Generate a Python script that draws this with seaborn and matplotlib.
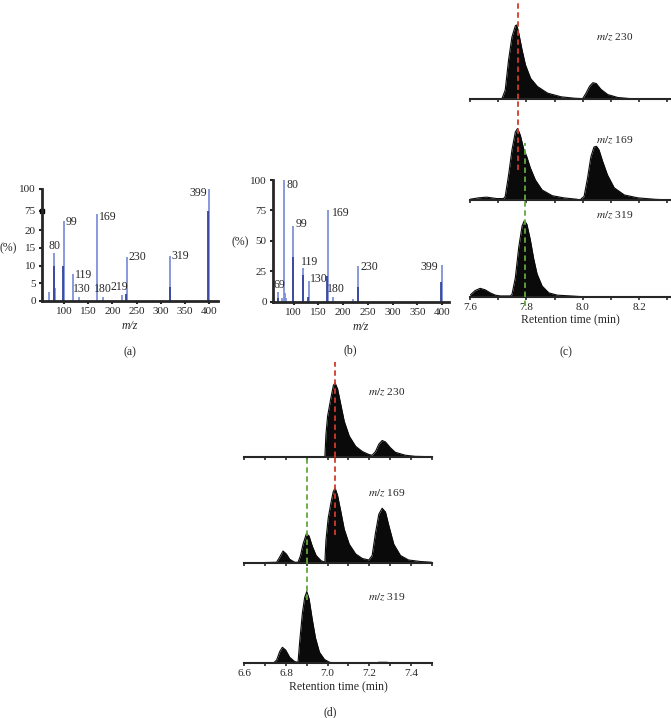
import numpy as np
import pandas as pd
import matplotlib
matplotlib.use('Agg')
import matplotlib.pyplot as plt
from matplotlib.ticker import MultipleLocator, FormatStrFormatter
import seaborn as sns

# ---- данные: масс-спектры (a) и (b) ----
a_mz = [69, 80, 82, 99, 119, 130, 169, 180, 219, 230, 319, 399]
a_int = [2.5, 13.6, 3.6, 47, 7.6, 1.1, 66, 1.0, 1.5, 12.3, 12.7, 100]
a_dark_mz = [79, 98, 229, 318, 398]
a_dark_int = [9.9, 10, 2, 3.8, 75]
a_labels = [80, 99, 119, 130, 169, 180, 219, 230, 319, 399]

b_mz = [69, 77, 80, 82, 84, 99, 119, 130, 169, 180, 219, 230, 399]
b_int = [8, 3, 100, 7, 3, 62, 28, 17, 75, 4, 2, 29, 30]
b_dark_mz = [68, 98, 118, 129, 168, 229, 398]
b_dark_int = [3, 37, 22, 4, 21, 12, 16]
b_labels = [69, 80, 99, 119, 130, 169, 180, 230, 399]

# ---- данные: хроматограммы (c) ----
c230_t = [7.60, 7.70, 7.713, 7.725, 7.737, 7.749, 7.761, 7.766, 7.773, 7.785, 7.797, 7.815, 7.839,
          7.875, 7.923, 7.971, 8.00, 8.012, 8.024, 8.036, 8.048, 8.065, 8.089, 8.125, 8.17, 8.31]
c230_y = [0, 0, 0, 0.12, 0.53, 0.84, 0.99, 1.0, 0.89, 0.66, 0.46, 0.28, 0.17,
          0.08, 0.03, 0.01, 0.005, 0.08, 0.17, 0.22, 0.21, 0.13, 0.06, 0.02, 0.005, 0]
c169_t = [7.60, 7.63, 7.659, 7.695, 7.719, 7.725, 7.737, 7.749, 7.761, 7.769, 7.779, 7.790, 7.802,
          7.814, 7.832, 7.856, 7.892, 7.933, 7.98, 7.99, 8.005, 8.017, 8.029, 8.040, 8.049, 8.058,
          8.07, 8.088, 8.112, 8.148, 8.196, 8.255, 8.31]
c169_y = [0.01, 0.03, 0.04, 0.02, 0.02, 0.05, 0.35, 0.7, 0.95, 1.0, 0.9, 0.72, 0.6,
          0.45, 0.28, 0.14, 0.06, 0.03, 0.01, 0.0, 0.05, 0.3, 0.6, 0.74, 0.75, 0.7,
          0.55, 0.35, 0.17, 0.07, 0.03, 0.01, 0.0]
c319_t = [7.60, 7.618, 7.636, 7.654, 7.672, 7.69, 7.708, 7.743, 7.749, 7.761, 7.773, 7.785, 7.793,
          7.802, 7.814, 7.826, 7.838, 7.856, 7.88, 7.91, 7.957, 8.0, 8.31]
c319_y = [0.02, 0.08, 0.11, 0.09, 0.05, 0.02, 0.01, 0.01, 0.03, 0.25, 0.65, 0.93, 1.0,
          0.95, 0.75, 0.5, 0.3, 0.14, 0.05, 0.02, 0.01, 0.0, 0.0]

# ---- данные: хроматограммы (d) ----
d230_t = [6.6, 6.987, 6.992, 7.0, 7.016, 7.028, 7.036, 7.048, 7.064, 7.08, 7.104, 7.135, 7.167,
          7.198, 7.214, 7.23, 7.246, 7.262, 7.278, 7.302, 7.325, 7.373, 7.42, 7.5]
d230_y = [0, 0, 0.3, 0.55, 0.8, 0.97, 1.0, 0.92, 0.7, 0.48, 0.28, 0.14, 0.07,
          0.03, 0.02, 0.07, 0.17, 0.22, 0.2, 0.12, 0.06, 0.02, 0.005, 0]
d169_t = [6.6, 6.755, 6.77, 6.786, 6.802, 6.818, 6.842, 6.858, 6.87, 6.882, 6.898, 6.911, 6.927,
          6.945, 6.969, 6.987, 6.992, 7.003, 7.016, 7.027, 7.036, 7.048, 7.064, 7.08, 7.104,
          7.135, 7.167, 7.198, 7.214, 7.23, 7.246, 7.262, 7.278, 7.294, 7.318, 7.35, 7.389,
          7.445, 7.5]
d169_y = [0, 0.01, 0.08, 0.16, 0.12, 0.05, 0.01, 0.01, 0.1, 0.25, 0.39, 0.36, 0.22,
          0.1, 0.03, 0.01, 0.3, 0.6, 0.8, 0.95, 1.0, 0.9, 0.68, 0.45, 0.25,
          0.12, 0.06, 0.04, 0.1, 0.4, 0.65, 0.73, 0.68, 0.5, 0.25, 0.1, 0.04,
          0.02, 0.01]
d319_t = [6.6, 6.74, 6.755, 6.77, 6.783, 6.799, 6.818, 6.842, 6.858, 6.866, 6.879, 6.89, 6.9,
          6.911, 6.927, 6.942, 6.961, 6.985, 7.009, 7.04, 7.23, 7.246, 7.286, 7.294, 7.5]
d319_y = [0, 0, 0.04, 0.16, 0.22, 0.18, 0.08, 0.02, 0.01, 0.3, 0.7, 0.92, 1.0,
          0.9, 0.6, 0.35, 0.15, 0.05, 0.01, 0, 0, 0.01, 0.01, 0, 0]

mz_names = ['230', '169', '319']

sns.set_style('ticks')
plt.rcParams['font.family'] = ['Liberation Serif', 'DejaVu Serif']
plt.rcParams['mathtext.fontset'] = 'stix'
plt.rcParams['font.size'] = 8

W, H = 671, 718
fig = plt.figure(figsize=(W / 100, H / 100), dpi=100)


def box(x0, y0, x1, y1):
    # пиксели (сверху вниз) -> доли фигуры
    return [x0 / W, 1 - y1 / H, (x1 - x0) / W, (y1 - y0) / H]


LIGHT = '#8091d8'
DARK = '#34449c'


def spectrum(ax, mz, inten, dmz, dint, xlim):
    ax.vlines(mz, 0, inten, color=LIGHT, lw=1.3)
    ax.vlines(dmz, 0, dint, color=DARK, lw=1.3)
    ax.set_xlim(*xlim)
    ax.set_ylim(0, 100)
    ax.set_xticks(range(100, 401, 50))
    for s in ['top', 'right']:
        ax.spines[s].set_visible(False)
    for s in ['left', 'bottom']:
        ax.spines[s].set_linewidth(2)
    ax.tick_params(direction='out', length=2.5, width=1.5, labelsize=8, pad=2)
    ax.set_xlabel('m/z', style='italic', fontsize=8.5, labelpad=3)
    ax.patch.set_alpha(0)


def annotate_peaks(ax, mz, inten, labels, offs):
    for m, (dx, dy, ha, va) in zip(labels, offs):
        h = inten[mz.index(m)]
        ax.annotate(str(m), (m, h), xytext=(dx, dy), textcoords='offset points',
                    ha=ha, va=va, fontsize=8.5)


# ---- (a) ----
yv = [0, 20, 75, 100]
yd = [0, 4, 5.1, 6.35]
ax_a = fig.add_axes(box(42, 189, 218, 300.7))
ax_a.set_yscale('function', functions=(lambda y: np.interp(y, yv, yd),
                                       lambda d: np.interp(d, yd, yv)))
spectrum(ax_a, a_mz, a_int, a_dark_mz, a_dark_int, (54.5, 418))
ax_a.set_yticks([0, 5, 10, 15, 20, 75, 100])
ax_a.plot([0], [75], marker='s', color='black', ms=3.5, transform=ax_a.get_yaxis_transform(),
          clip_on=False)
offs_a = [(0, 0.5, 'center', 'bottom'), (1.2, -0.7, 'left', 'center'), (1.2, -0.5, 'left', 'center'),
          (2.5, 1.5, 'center', 'bottom'), (1.0, -2, 'left', 'center'), (0, 1.8, 'center', 'bottom'),
          (-1.6, 1.8, 'center', 'bottom'), (1.2, 0, 'left', 'center'), (1.0, 0, 'left', 'center'),
          (-1.5, -3, 'right', 'center')]
annotate_peaks(ax_a, a_mz, a_int, a_labels, offs_a)
ax_a.set_ylabel('(%)', rotation=0, fontsize=8.5, ha='center', va='center')
ax_a.yaxis.set_label_coords(-34 / 176, (300.7 - 248) / 111.7)

# ---- (b) ----
ax_b = fig.add_axes(box(273, 180, 449, 301.7))
spectrum(ax_b, b_mz, b_int, b_dark_mz, b_dark_int, (58, 414))
ax_b.set_yticks([0, 25, 50, 75, 100])
offs_b = [(0.7, 1.0, 'center', 'bottom'), (1.7, -3.8, 'left', 'center'), (1.5, 1.8, 'left', 'center'),
          (-1.7, 4.3, 'left', 'center'), (1.0, 1.7, 'left', 'center'), (3.0, -1.7, 'left', 'center'),
          (1.8, 1.0, 'center', 'bottom'), (2.0, -0.7, 'left', 'center'), (-2.5, -1.2, 'right', 'center')]
annotate_peaks(ax_b, b_mz, b_int, b_labels, offs_b)
ax_b.set_ylabel('(%)', rotation=0, fontsize=8.5, ha='center', va='center')
ax_b.yaxis.set_label_coords(-33 / 176, (301.7 - 242) / 121.7)


# ---- хроматограммы ----
def chrom(ax, t, y, xlim, ytop, name, tx, ty, last):
    df = pd.DataFrame({'t': t, 'y': y})
    ax.fill_between(df['t'], 0, df['y'], color='#0a0a0a', lw=0)
    sns.lineplot(data=df, x='t', y='y', ax=ax, color='#0a0a0a', lw=0.8, sort=False)
    ax.set_xlim(*xlim)
    ax.set_ylim(0, ytop)
    ax.set_yticks([])
    ax.set_ylabel('')
    for s in ['left', 'right', 'top']:
        ax.spines[s].set_visible(False)
    ax.spines['bottom'].set_linewidth(1.5)
    ax.xaxis.set_major_locator(MultipleLocator(0.2))
    ax.xaxis.set_minor_locator(MultipleLocator(0.1))
    ax.xaxis.set_major_formatter(FormatStrFormatter('%.1f'))
    ax.tick_params(axis='x', which='both', direction='out', length=2.5, width=1.2,
                   labelsize=8, pad=2)
    ax.patch.set_alpha(0)
    ax.text(tx, ty, r'$\mathit{m/z}$ ' + name, transform=ax.transAxes,
            ha='center', va='center', fontsize=8.2)
    if last:
        ax.set_xlabel('Retention time (min)', fontsize=8.5, labelpad=2)
    else:
        ax.set_xlabel('')
        ax.tick_params(axis='x', labelbottom=False)


RED = '#d03a2a'
GREEN = '#62a83a'

# (c)
c_series = [(c230_t, c230_y), (c169_t, c169_y), (c319_t, c319_y)]
c_boxes = [(0, 99), (99, 200), (200, 296.7)]
c_tops = [1.338, 1.41, 1.27]
c_text_y = [0.626, 0.594, 0.845]
c_axes = []
for i, ((t, y), (y0, y1)) in enumerate(zip(c_series, c_boxes)):
    ax = fig.add_axes(box(470, y0, 670, y1))
    chrom(ax, t, y, (7.6, 8.31), c_tops[i], mz_names[i], 0.725, c_text_y[i], i == 2)
    c_axes.append(ax)
dash = dict(ls=(0, (3, 2)), lw=1.3, zorder=5)
c_axes[0].axvline(7.77, ymin=0, ymax=1, color=RED, clip_on=False, **dash)
c_axes[1].axvline(7.77, ymin=0.30, ymax=1, color=RED, clip_on=False, **dash)
c_axes[1].axvline(7.795, ymin=0, ymax=0.56, color=GREEN, clip_on=False, **dash)
c_axes[2].axvline(7.795, ymin=-0.1, ymax=1, color=GREEN, clip_on=False, **dash)

# (d)
d_series = [(d230_t, d230_y), (d169_t, d169_y), (d319_t, d319_y)]
d_boxes = [(356, 456.7), (456.7, 563), (563, 663)]
d_tops = [1.366, 1.417, 1.40]
d_text_y = [0.642, 0.659, 0.66]
d_axes = []
for i, ((t, y), (y0, y1)) in enumerate(zip(d_series, d_boxes)):
    ax = fig.add_axes(box(244.3, y0, 431.7, y1))
    chrom(ax, t, y, (6.6, 7.5), d_tops[i], mz_names[i], 0.761, d_text_y[i], i == 2)
    d_axes.append(ax)
d_axes[0].axvline(7.035, ymin=0, ymax=0.94, color=RED, clip_on=False, **dash)
d_axes[1].axvline(7.035, ymin=0.26, ymax=1, color=RED, clip_on=False, **dash)
d_axes[1].axvline(6.902, ymin=0, ymax=1, color=GREEN, clip_on=False, **dash)
d_axes[2].axvline(6.902, ymin=0.63, ymax=1, color=GREEN, clip_on=False, **dash)

# подписи панелей
for lab, x, y in [('(a)', 130, 352), ('(b)', 350, 350), ('(c)', 566, 352), ('(d)', 330, 712)]:
    fig.text(x / W, 1 - y / H, lab, ha='center', va='center', fontsize=8.5)

fig.savefig('out.png', dpi=100)
